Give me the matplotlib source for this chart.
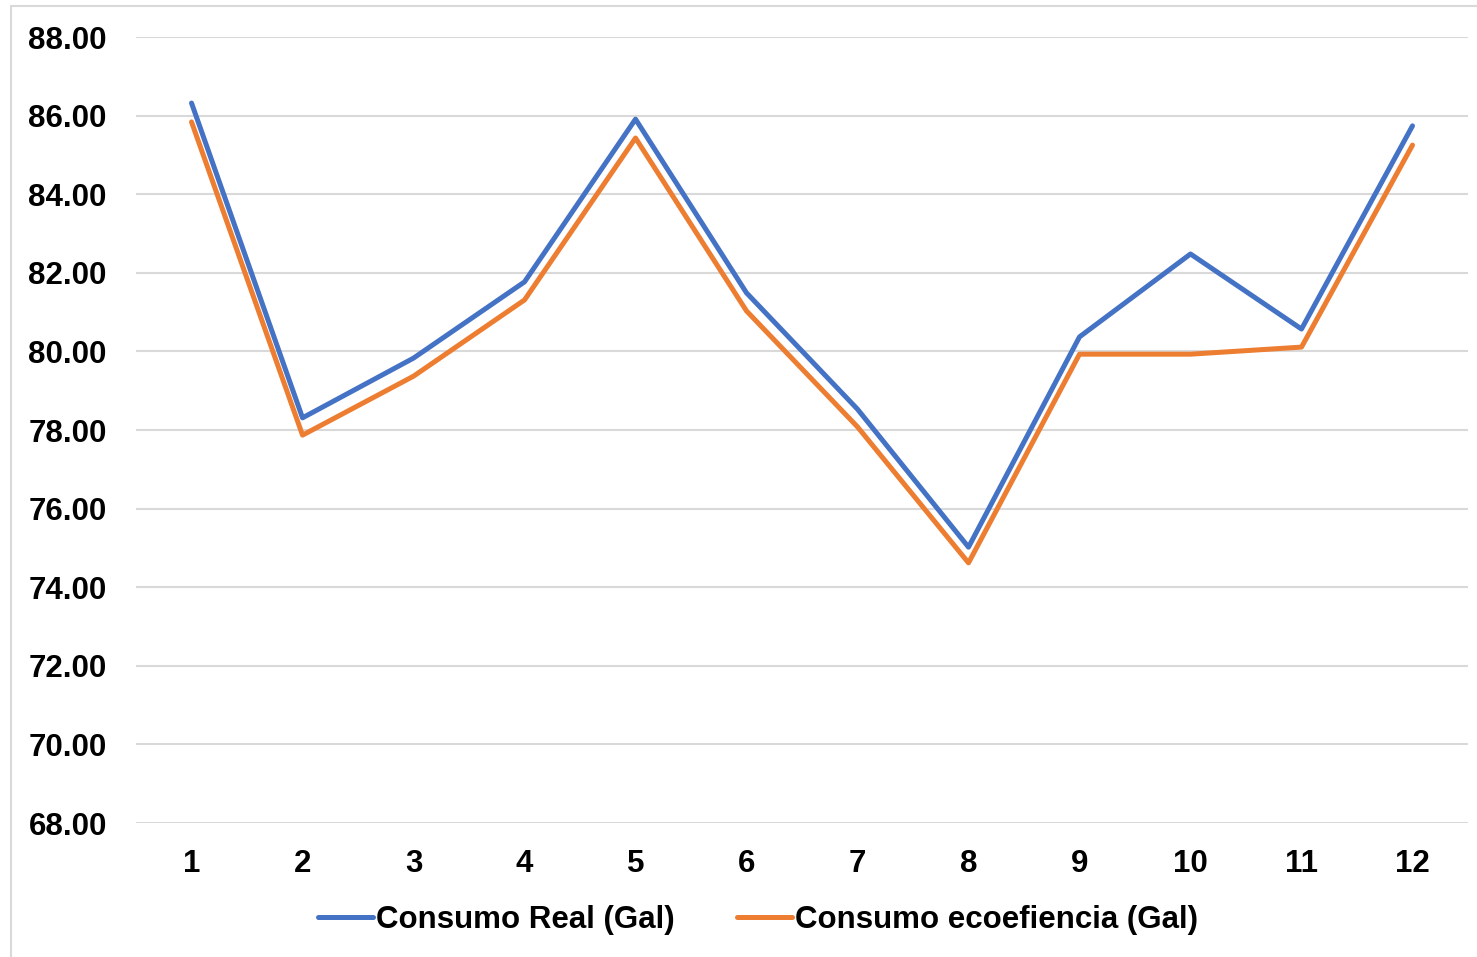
import matplotlib.pyplot as plt
from matplotlib.patches import Rectangle

## Monthly fuel consumption data
months = [1, 2, 3, 4, 5, 6, 7, 8, 9, 10, 11, 12]
consumoReal = [86.32, 78.31, 79.83, 81.77, 85.91, 81.49, 78.53, 75.02, 80.37, 82.48, 80.57, 85.74]
consumoEco = [85.84, 77.87, 79.37, 81.31, 85.43, 81.03, 78.08, 74.62, 79.93, 79.93, 80.11, 85.25]
yTicks = [68, 70, 72, 74, 76, 78, 80, 82, 84, 86, 88]

plt.rcParams['font.family'] = ['Liberation Sans', 'DejaVu Sans']
plt.rcParams['font.weight'] = 'bold'

fig = plt.figure(figsize=(14.77, 9.57), dpi=100)
ax = fig.add_axes([0.0921, 0.14, 0.9018, 0.8213])

## chart frame (light gray border)
fig.patches.append(Rectangle((11/1477, -0.05), 1.2, 1 - 6/957 + 0.05, transform=fig.transFigure,
                             fill=False, edgecolor='#d9d9d9', linewidth=1.5, zorder=0))

ax.plot(months, consumoReal, color='#4472C4', linewidth=3.6, solid_capstyle='round',
        solid_joinstyle='round', label='Consumo Real (Gal)', zorder=3)
ax.plot(months, consumoEco, color='#ED7D31', linewidth=3.6, solid_capstyle='round',
        solid_joinstyle='round', label='Consumo ecoefiencia (Gal)', zorder=3)

ax.set_xlim(0.5, 12.5)
ax.set_ylim(68, 88)
ax.set_xticks(months)
ax.set_yticks(yTicks)
ax.set_yticklabels(['%.2f' % v for v in yTicks])
ax.tick_params(axis='both', length=0, labelsize=22.5)
ax.tick_params(axis='y', pad=21)
ax.tick_params(axis='x', pad=19)
ax.grid(axis='y', color='#d9d9d9', linewidth=1.5, zorder=0)
for s in ax.spines.values():
    s.set_visible(False)

ax.legend(loc='center', bbox_to_anchor=(758/1477, 1 - 920/957), bbox_transform=fig.transFigure,
          ncol=2, frameon=False, fontsize=22.5, handlelength=1.76, handletextpad=0.1,
          columnspacing=2.0)

fig.savefig('out.png', dpi=100)
